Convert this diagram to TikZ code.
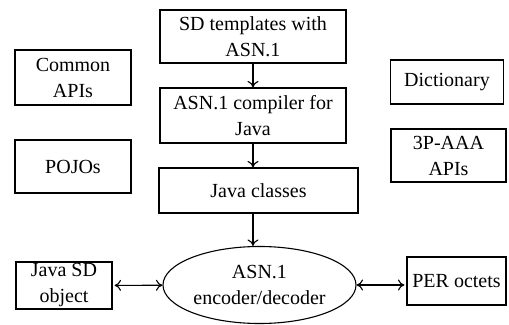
\documentclass[tikz,border=0pt]{standalone}
\usepackage{fontspec}
\setmainfont{Liberation Serif}
\usepackage{tikz}
\usetikzlibrary{arrows.meta,shapes}

\begin{document}
\begin{tikzpicture}[>={To[length=6.5bp,width=11bp]},line width=1.1bp,
  font=\fontsize{20bp}{26bp}\selectfont]
 \tikzstyle{box}=[draw,rectangle,align=center,inner sep=0pt]
 \tikzstyle{codec}=[draw,ellipse,align=center,inner sep=0pt,minimum width=193bp,minimum height=77bp]
 \useasboundingbox (0bp,0bp) rectangle (509bp,325bp);

 \node (T) at (253bp,288.5bp) [box,minimum width=186bp,minimum height=53bp] {SD templates with\\ASN.1};
 \node (C) at (253bp,209.5bp) [box,minimum width=186bp,minimum height=55bp] {ASN.1 compiler for\\Java};
 \node (J) at (258.5bp,134.5bp) [box,minimum width=199bp,minimum height=45bp] {Java classes};
 \node (E) at (259.5bp,40bp) [codec] {ASN.1\\encoder/decoder};

 \node (capi) at (73bp,247.5bp) [box,minimum width=116bp,minimum height=55bp] {Common\\APIs};
 \node (pojo) at (73bp,158.5bp) [box,minimum width=116bp,minimum height=53bp] {POJOs};
 \node (dict) at (447bp,243bp) [box,minimum width=113bp,minimum height=44bp] {Dictionary};
 \node (aaa) at (448.5bp,169.5bp) [box,minimum width=115bp,minimum height=53bp] {3P-AAA\\APIs};

 \node (obj) at (64bp,39.5bp) [box,minimum width=96bp,minimum height=47bp] {Java SD\\object};
 \node (per) at (456.5bp,44bp) [box,minimum width=99bp,minimum height=48bp] {PER octets};

 \draw [->] (T) to (C);
 \draw [->] (C) to (C |- J.north);
 \draw [->] (J.south -| C) to (E.north -| C);
 \draw [<->,shorten <=2bp] (obj) to (E);
 \draw [<->,shorten >=2bp] (E.east) to (per.west |- E.east);
\end{tikzpicture}
\end{document}
